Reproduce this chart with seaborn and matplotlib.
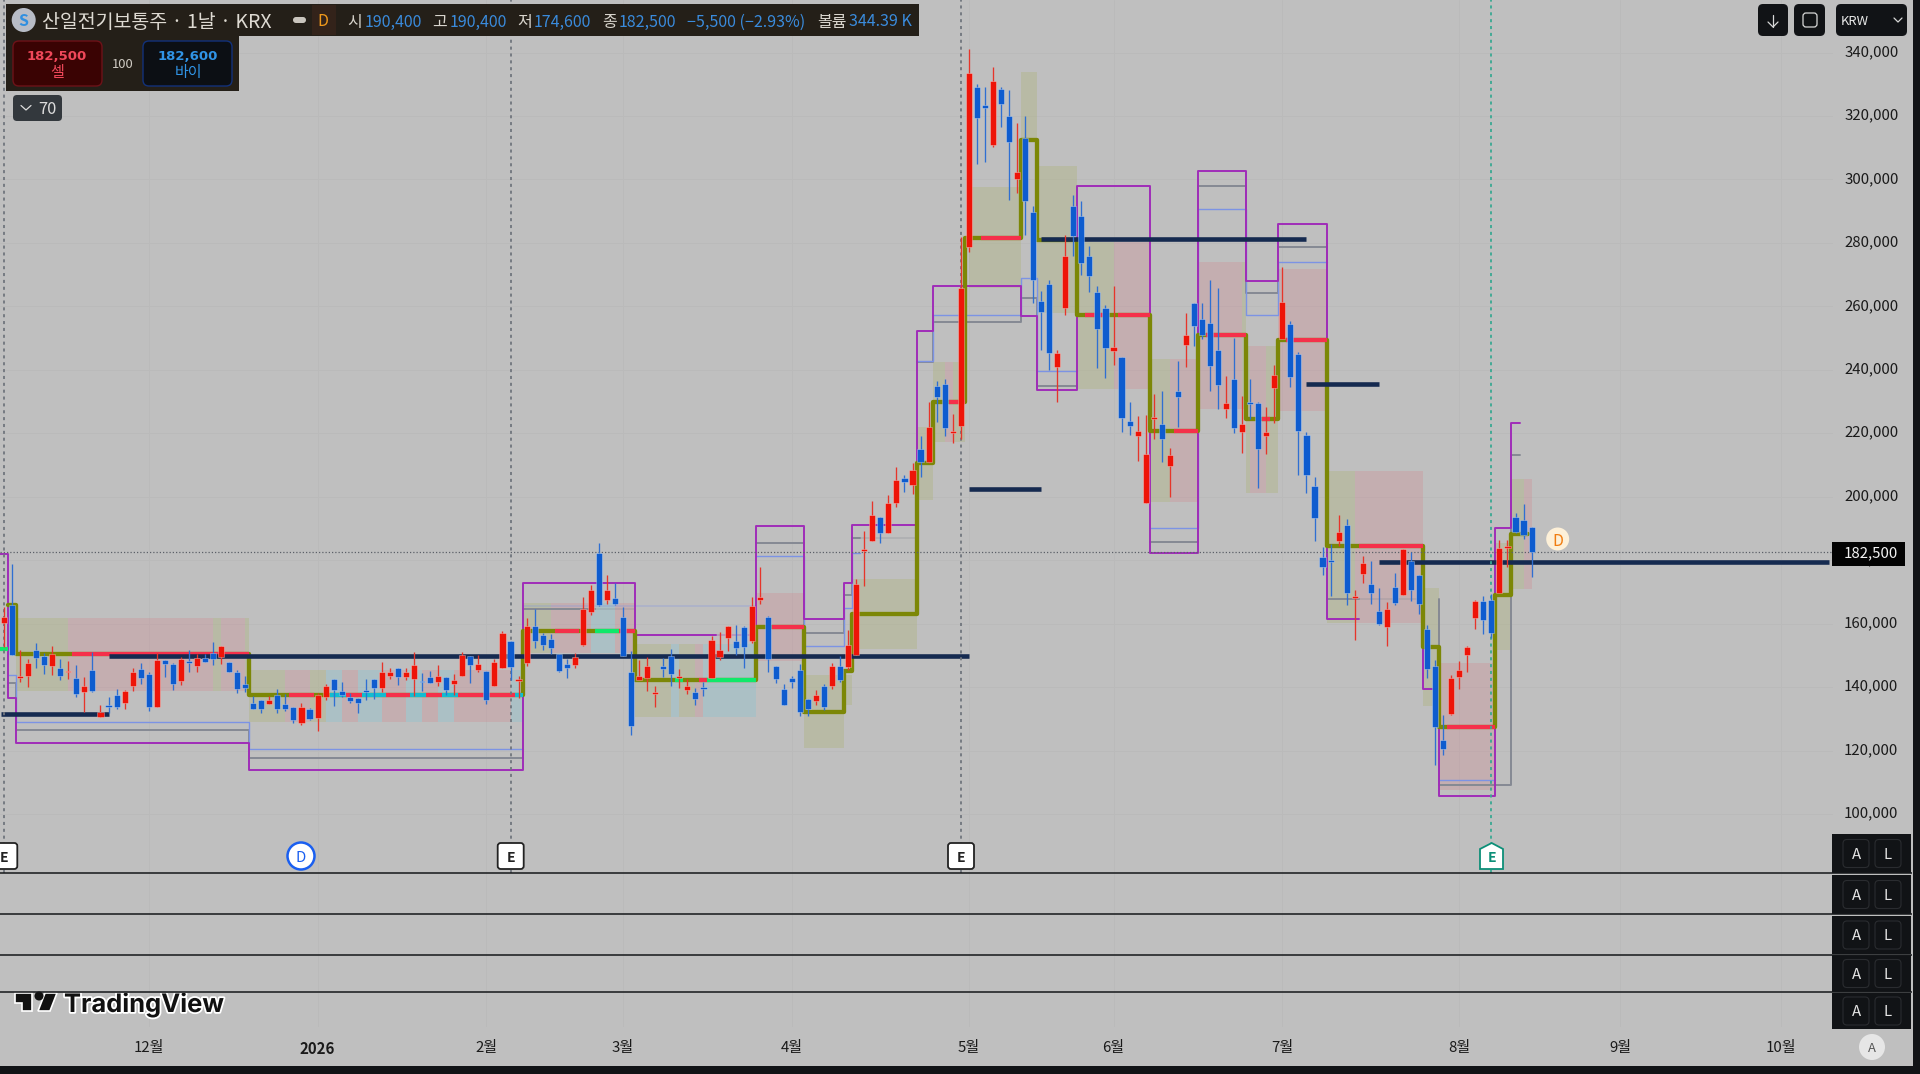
import numpy as np
import pandas as pd
import seaborn as sns
import matplotlib.pyplot as plt
import matplotlib.patheffects as pe
from matplotlib.patches import Rectangle, FancyBboxPatch, Circle, Polygon
from matplotlib.transforms import Bbox, ScaledTranslation

# OHLC diario, em milhares de KRW
opens = [160.1,165.9,142.9,143.5,151.7,149.8,146.8,145.9,144.6,142.9,
         138.6,145.3,130.7,134.3,137.5,135.0,140.3,145.7,144.1,133.8,
         148.5,147.2,142.0,148.2,146.8,149.1,150.6,149.5,147.8,144.6,
         141.0,134.9,135.8,134.8,137.4,134.7,133.7,128.8,133.1,130.1,
         137.0,142.7,138.7,136.9,136.6,138.8,142.6,139.8,143.5,146.0,
         143.1,142.7,141.8,143.1,141.7,143.1,141.0,143.6,149.7,145.4,
         145.2,140.3,146.0,154.5,141.9,
         147.7,159.3,156.3,155.2,150.4,147.2,147.0,153.3,163.8,182.4,
         167.6,168.0,162.1,144.7,142.1,143.0,137.7,146.6,149.9,142.9,
         139.0,138.3,139.7,143.0,149.4,155.5,154.4,159.0,154.6,167.6,
         162.1,146.6,139.5,142.9,145.3,136.4,135.5,140.2,140.5,146.6,
         146.4,150.2,182.8,186.2,193.5,188.6,
         197.9,206.0,203.7,215.0,210.8,234.9,235.6,220.2,222.3,
         278.8,329.0,323.5,310.8,328.5,320.0,300.0,313.0,289.9,261.8,
         267.0,241.0,259.4,291.7,288.5,275.9,264.4,259.5,245.9,244.1,
         223.9,219.3,197.9,224.6,222.8,209.8,233.3,247.7,261.1,255.9,
         254.8,246.4,227.7,237.0,220.4,230.0,229.4,219.3,234.4,249.8,
         254.5,244.9,219.4,203.3,
         181.0,179.7,185.9,191.1,168.1,175.6,172.6,164.0,159.0,171.4,
         169.0,179.7,175.2,158.4,146.8,123.2,131.5,143.3,150.0,161.9,
         167.1,167.5,169.5,183.8,193.5,192.7,190.4]
closes = [162.2,150.1,143.5,147.5,149.3,147.1,150.5,143.6,145.1,137.9,
          140.2,138.9,132.3,133.8,133.6,138.9,144.6,143.0,133.7,148.5,
          147.4,141.0,148.8,147.7,149.1,148.0,148.9,152.9,144.6,139.4,
          139.8,133.2,133.2,135.8,133.1,133.1,129.7,133.6,129.8,137.5,
          140.2,139.2,137.5,135.7,134.9,138.5,139.6,144.6,144.6,143.3,
          144.6,146.9,141.5,141.3,143.5,139.0,142.2,150.0,146.9,147.3,
          135.8,148.0,157.0,146.4,142.2,
          159.3,154.6,153.4,152.4,145.1,145.9,149.5,164.5,170.6,165.9,
          170.6,166.3,149.8,127.8,143.4,146.6,138.4,145.8,144.1,143.2,
          140.4,136.4,139.4,154.9,151.7,159.1,152.4,152.5,165.7,168.4,
          149.0,142.6,134.5,141.7,132.3,133.1,137.4,133.6,146.8,142.1,
          153.3,172.6,183.4,194.2,188.7,197.9,
          205.3,204.8,208.4,211.0,222.1,231.4,221.8,220.8,265.7,
          333.5,319.5,322.4,331.1,323.9,311.9,302.4,293.3,268.4,258.2,
          245.4,245.4,275.9,282.2,273.8,269.7,252.8,246.8,247.3,224.7,
          222.2,220.8,213.5,225.1,218.3,213.0,231.3,250.9,253.9,250.9,
          241.3,235.3,229.4,221.8,222.9,229.2,214.9,220.3,238.4,261.3,
          237.8,220.8,206.8,193.2,
          178.0,179.5,188.9,169.6,168.3,179.0,169.8,159.8,164.5,166.4,
          183.5,170.6,166.2,145.6,127.5,120.5,142.9,145.4,152.7,167.2,
          161.2,157.2,183.8,184.5,188.9,187.9,182.5]
highs = [165.4,178.8,151.7,148.8,153.8,150.9,153.0,148.8,148.2,147.0,
         143.1,151.2,134.4,136.8,139.3,139.1,145.9,147.7,144.6,150.6,
         148.5,147.5,149.6,151.7,150.3,150.3,154.2,152.9,147.8,145.4,
         143.5,137.2,135.8,137.2,139.5,137.8,133.7,134.9,133.5,138.2,
         141.0,142.7,141.6,138.2,136.6,142.6,142.6,147.9,145.9,146.0,
         145.9,151.0,144.3,145.2,146.9,143.1,144.0,151.2,149.7,150.1,
         145.2,148.8,157.8,154.5,143.5,
         161.7,164.5,157.0,156.8,150.4,148.8,150.7,168.3,172.2,185.3,
         175.4,172.9,165.4,151.4,148.5,149.6,140.5,149.1,152.0,145.6,
         142.6,139.6,141.7,156.1,157.5,159.3,159.6,159.3,168.3,178.0,
         162.4,146.6,140.9,143.5,147.3,136.4,139.1,140.9,147.7,149.8,
         158.0,174.1,189.3,198.5,193.5,200.5,
         209.5,206.9,210.5,219.0,230.0,236.6,237.0,226.1,282.0,
         341.0,330.0,329.1,335.3,329.1,328.2,317.7,320.0,291.5,265.0,
         268.3,246.1,282.5,295.1,293.2,279.1,266.4,260.5,266.4,244.1,
         230.0,225.5,225.8,232.3,233.4,215.3,242.9,258.0,261.1,261.0,
         268.3,265.9,237.9,249.9,231.6,237.0,230.0,228.4,241.5,272.5,
         255.4,245.5,220.3,206.3,
         184.3,185.1,194.2,192.9,170.6,181.3,179.9,171.3,166.9,175.9,
         183.5,182.6,175.2,159.5,148.6,131.2,143.8,148.2,153.0,167.5,
         168.7,169.2,186.4,186.4,194.8,197.7,190.4]
lows = [152.7,150.1,141.7,140.1,145.9,144.0,143.8,142.2,142.6,137.0,
        132.3,138.6,130.5,131.7,133.0,133.0,138.9,141.0,132.6,133.8,
        143.1,139.1,140.7,144.8,144.8,148.0,147.0,147.4,144.6,138.0,
        138.5,133.1,131.7,134.8,131.9,132.6,128.8,128.0,129.6,126.3,
        135.9,134.0,137.0,135.1,131.7,135.9,136.3,138.6,142.5,140.7,
        142.2,137.2,138.8,141.2,140.2,137.5,137.5,143.5,141.2,144.6,
        134.7,140.2,145.9,142.2,136.5,
        146.5,152.2,151.7,150.4,144.9,143.0,145.9,153.0,162.7,165.6,
        166.2,165.9,149.8,124.9,142.1,138.9,133.6,143.3,140.4,139.6,
        137.7,134.2,137.2,143.0,148.6,151.5,150.1,146.1,154.0,166.2,
        144.9,141.2,134.5,139.6,130.9,130.9,134.5,132.8,139.4,141.7,
        145.4,150.0,171.9,186.2,185.5,188.5,
        196.8,201.5,201.0,206.3,210.5,223.4,219.0,216.9,218.1,
        277.0,304.9,305.6,310.2,316.5,293.6,295.7,282.5,261.2,246.1,
        240.0,230.0,257.3,275.9,269.9,264.4,240.5,237.3,241.5,220.5,
        219.5,211.4,197.9,218.1,211.1,200.0,222.1,241.0,247.5,249.6,
        233.4,227.6,224.9,220.0,213.9,224.6,202.9,213.5,223.1,249.8,
        234.5,206.9,201.1,185.9,
        175.4,168.8,184.6,165.9,154.9,172.9,166.2,159.6,152.8,165.8,
        169.0,167.1,162.9,142.8,115.5,118.6,131.2,139.3,144.9,158.4,
        156.8,155.4,169.5,178.0,188.7,186.6,174.6]

# Eixos
price_ticks = [100, 120, 140, 160, 180, 200, 220, 240, 260, 280, 300, 320, 340]
price_labels = ['100,000', '120,000', '140,000', '160,000', '180,000', '200,000', '220,000',
                '240,000', '260,000', '280,000', '300,000', '320,000', '340,000']
month_ticks = [18, 39, 60, 77, 98, 120, 138, 159, 181, 201, 221]
month_labels = ['12월', '2026', '2월', '3월', '4월', '5월', '6월', '7월', '8월', '9월', '10월']
last_close = 182.5

# Linha principal em degraus (oliva)
poc_edges = [0.5, 1.5, 30.5, 64.5, 78.5, 93.5, 99.5, 104.5, 105.5, 113.5, 115.5, 119.5, 126.5,
             128.5, 133.5, 142.5, 148.5, 154.5, 158.5, 164.5, 176.5, 178.5, 185.5, 187.5, 189.5]
poc_levels = [165.9, 150.4, 137.5, 157.7, 142.2, 158.9, 132.2, 145.1, 163.0, 210.6, 229.9, 281.6,
              312.4, 280.9, 257.3, 220.7, 251.0, 224.5, 249.4, 184.5, 152.6, 127.4, 169.0, 188.3]

# Trechos coloridos sobre a linha principal
seg_start = [-0.5, 8.5, 35.5, 40.5, 42.5, 44.5, 47.5, 50.5, 52.5, 54.5, 56.5, 63.5, 68.5, 73.5, 76.5,
             83.5, 86.5, 87.5, 95.5, 117.5, 121.5, 134.5, 138.5, 145.5, 149.5, 156.5, 159.5, 168.5, 179.5]
seg_end = [0.5, 30.5, 38.5, 42.5, 44.5, 47.5, 50.5, 52.5, 54.5, 56.5, 63.5, 64.5, 71.5, 76.5, 78.5,
           84.5, 87.5, 93.5, 99.5, 119.5, 126.5, 137.5, 142.5, 148.5, 154.5, 157.5, 164.5, 176.5, 185.5]
seg_price = [151.9, 150.4, 137.5, 137.5, 137.5, 137.5, 137.5, 137.5, 137.5, 137.5, 137.5, 137.5,
             157.7, 157.7, 157.7, 142.2, 142.2, 142.2, 158.9, 229.9, 281.6, 257.3, 257.3, 220.7,
             251.0, 224.5, 249.4, 184.5, 127.4]
seg_kind = ['green', 'red', 'red', 'cyan', 'red', 'cyan', 'red', 'cyan', 'red', 'cyan', 'red', 'cyan',
            'red', 'green', 'red', 'green', 'red', 'green', 'red', 'red', 'red', 'red', 'red', 'red',
            'red', 'red', 'red', 'red', 'red']

# Caixas sombreadas
box_start = [1.5, 8, 26, 27, 30, 30.5, 35, 38, 40, 42, 44, 47, 50, 52, 54, 56, 63.1,
             64.5, 68, 73, 76, 78.5, 83, 84, 86, 87, 93.5, 99.5, 104.5, 105.5, 113.5, 115.5, 117, 118,
             120, 126.5, 128.5, 133.5, 138, 142.5, 145, 148.5, 154, 154.5, 155, 157, 158.5,
             164.5, 168, 176.5, 178.5, 185.5, 187.5, 189]
box_end = [8, 26, 27, 30, 30.5, 35, 38, 40, 42, 44, 47, 50, 52, 54, 56, 63.1, 64.5,
           68, 73, 76, 78.5, 83, 84, 86, 87, 93.5, 99.5, 104.5, 105.5, 113.5, 115.5, 117, 118, 119.5,
           126.5, 128.5, 133.5, 138, 142.5, 145, 148.5, 154, 154.5, 155, 157, 158.5, 164.5,
           168, 176.5, 178.5, 185.5, 187.5, 189, 190]
box_top = [161.9, 161.9, 161.9, 161.9, 161.9, 145.4, 145.4, 145.4, 145.4, 145.4, 145.4, 145.4, 145.4,
           145.4, 145.4, 145.4, 145.4,
           166.6, 166.6, 166.6, 166.6, 153.6, 153.6, 153.6, 153.6, 153.6, 169.6, 143.8, 143.8, 174.1,
           222.1, 242.5, 242.5, 242.5,
           297.7, 333.9, 304.2, 280.4, 280.4, 243.3, 243.3, 274.1, 274.1, 247.5, 247.5, 247.5, 271.7,
           208.1, 208.1, 171.2, 147.5, 185.4, 205.6, 205.6]
box_bottom = [138.7, 138.7, 138.7, 138.7, 138.7, 129.1, 129.1, 129.1, 129.1, 129.1, 129.1, 129.1, 129.1,
              129.1, 129.1, 129.1, 129.1,
              150.7, 150.7, 150.7, 150.7, 130.7, 130.7, 130.7, 130.7, 130.7, 148.3, 120.7, 134.4, 152.0,
              199.0, 217.3, 217.3, 217.3,
              265.7, 312.4, 257.8, 233.9, 233.9, 198.4, 198.4, 227.6, 227.6, 201.1, 201.1, 201.1, 227.1,
              160.3, 160.3, 134.0, 107.6, 151.7, 170.9, 170.9]
box_kind = ['olive', 'pink', 'olive', 'pink', 'olive', 'olive', 'pink', 'olive', 'cyan', 'pink', 'cyan',
            'pink', 'cyan', 'pink', 'cyan', 'pink', 'cyan',
            'olive', 'pink', 'cyan', 'pink', 'olive', 'cyan', 'olive', 'pink', 'cyan', 'pink', 'olive',
            'olive', 'olive', 'olive', 'olive', 'pink', 'olive',
            'olive', 'olive', 'olive', 'olive', 'pink', 'olive', 'pink', 'pink', 'olive', 'olive', 'pink',
            'olive', 'pink', 'olive', 'pink', 'olive', 'pink', 'olive', 'olive', 'pink']

# Contornos roxos, cinza e azuis: (bordas, niveis)
purple_runs = [
    ([-0.5, 0.5, 1.5, 30.5, 64.5, 78.5, 88.5], [182.0, 136.6, 122.4, 113.9, 172.8, 156.4]),
    ([93.4, 93.5, 99.5, 104.5, 105.5, 113.5, 115.5, 126.5, 128.5, 133.5, 142.5, 148.5, 154.5, 158.5, 164.5, 168.5],
     [156.4, 190.8, 161.6, 172.9, 191.1, 252.2, 266.4, 257.0, 233.6, 298.0, 182.4, 302.8, 268.0, 286.1, 161.5]),
    ([176.4, 176.5, 178.5, 185.5, 187.5, 188.5], [161.5, 139.4, 105.7, 190.1, 223.2]),
]
gray_runs = [
    ([0.5, 1.5, 30.5, 64.5, 73.5], [141.3, 126.5, 117.7, 164.6]),
    ([93.5, 99.5, 104.5, 105.5, 106.5], [185.5, 157.0, 169.0, 187.0]),
    ([113.5, 115.5, 126.5, 128.5, 133.5], [242.5, 255.1, 262.7, 234.9]),
    ([142.5, 148.5, 154.5, 158.5, 164.5, 168.5], [185.8, 297.9, 264.3, 278.7, 167.9]),
    ([178.49, 178.5, 187.5, 188.5], [167.9, 109.1, 213.2]),
]
blue_runs = [
    ([0.5, 1.5, 30.5, 64.5], [143.8, 129.0, 120.5]),
    ([93.5, 99.5, 104.5, 105.5, 106.5], [181.3, 153.0, 165.0, 182.3]),
    ([113.5, 115.5, 126.5, 128.5, 133.5], [242.9, 257.3, 269.0, 239.7]),
    ([142.5, 148.5, 154.5, 158.5, 164.5], [190.1, 290.8, 257.4, 274.1]),
    ([178.5, 185.5], [110.7]),
]
pale_start = [73.5, 64.5, 88.5, 106.5, 168.5]
pale_end = [78.5, 93.5, 93.5, 113.5, 176.5]
pale_price = [164.6, 165.6, 156.4, 187.0, 167.9]
pale_kind = ['gray', 'blue', 'purple', 'gray', 'gray']

# Linhas horizontais escuras
navy_start = [-0.4, 13, 120, 129, 162, 171]
navy_end = [13, 120, 129, 162, 171, 227]
navy_price = [131.6, 149.9, 202.5, 281.3, 235.4, 179.3]

# Linhas verticais tracejadas dos eventos
event_x = [0, 63, 119, 185]
event_color = ['#70757d', '#70757d', '#70757d', '#3aa892']

palette = {'olive': (167/255, 175/255, 91/255, 0.25), 'pink': (215/255, 115/255, 127/255, 0.22),
           'cyan': (115/255, 195/255, 215/255, 0.25), 'red': '#f5304a', 'green': '#0fe86a',
           'seg_cyan': '#12bcd0', 'gray': '#858993', 'blue': '#7c93e4', 'purple': '#a02cb8'}
seg_colors = {'red': palette['red'], 'green': palette['green'], 'cyan': palette['seg_cyan']}


def steps(edges, levels):
    # transforma bordas e niveis em pontos de um degrau
    xs, ys = [], []
    for i, level in enumerate(levels):
        xs += [edges[i], edges[i + 1]]
        ys += [level, level]
    return xs, ys


BG = '#bfbfbf'
DARK = '#111316'
KR_FONT = ['Noto Sans CJK KR', 'DejaVu Sans']

sns.set_theme(style='white', rc={'figure.facecolor': BG, 'axes.facecolor': BG, 'patch.edgecolor': 'none'})
plt.rcParams['font.family'] = KR_FONT

fig = plt.figure(figsize=(19.2, 10.74), dpi=100)
ax = fig.add_axes([0, 47 / 1074, 1833 / 1920, 1027 / 1074])
ax.set_xlim(-0.4975, 227.49)
ax.set_ylim(32.86, 356.57)
sns.despine(ax=ax, left=True, bottom=True, right=True, top=True)

ax.set_yticks(price_ticks, price_labels)
ax.set_xticks(month_ticks, month_labels)
ax.yaxis.tick_right()
ax.tick_params(axis='y', length=0, pad=8, labelsize=10.8, labelcolor='#1a1a1a')
ax.tick_params(axis='x', length=0, pad=10, labelsize=10.8, labelcolor='#1a1a1a')
# a fonte CJK fica um pouco baixa: sobe os rotulos 2 px
up_shift = ScaledTranslation(0, 0.02, fig.dpi_scale_trans)
for tick in ax.yaxis.get_major_ticks():
    tick.label2.set_transform(tick.label2.get_transform() + up_shift)
ax.get_xticklabels()[1].set_fontweight('bold')
ax.grid(True, color='#bababa', linewidth=0.7, zorder=0)
ax.set_axisbelow(True)

# Caixas sombreadas
for start, end, top, bottom, kind in zip(box_start, box_end, box_top, box_bottom, box_kind):
    ax.add_patch(Rectangle((start, bottom), end - start, top - bottom, facecolor=palette[kind],
                           edgecolor='none', zorder=1))

# Contornos
for edges, levels in gray_runs:
    xs, ys = steps(edges, levels)
    ax.plot(xs, ys, color=palette['gray'], lw=1.4, zorder=2)
for edges, levels in blue_runs:
    xs, ys = steps(edges, levels)
    ax.plot(xs, ys, color=palette['blue'], lw=1.0, zorder=2.1)
for start, end, price, kind in zip(pale_start, pale_end, pale_price, pale_kind):
    ax.plot([start, end], [price, price], color=palette[kind], lw=1.2, alpha=0.3, zorder=2)
for edges, levels in purple_runs:
    xs, ys = steps(edges, levels)
    ax.plot(xs, ys, color=palette['purple'], lw=1.4, zorder=2.2)

# Linha principal
poc_x, poc_y = steps(poc_edges, poc_levels)
poc = pd.DataFrame({'x': poc_x, 'y': poc_y})
sns.lineplot(data=poc, x='x', y='y', sort=False, estimator=None, color='#7c8706', linewidth=3.1,
             solid_joinstyle='round', legend=False, ax=ax, zorder=3)
ax.set_xlabel(None)
ax.set_ylabel(None)
for start, end, price, kind in zip(seg_start, seg_end, seg_price, seg_kind):
    ax.plot([start, end], [price, price], color=seg_colors[kind], lw=3.0, solid_capstyle='butt', zorder=3.1)

# Linhas escuras e linha do ultimo preco
ax.hlines(navy_price, navy_start, navy_end, color='#152a50', lw=3.3, zorder=3.2)
ax.axhline(last_close, color='#5c6068', lw=0.9, ls=(0, (1, 1.6)), zorder=3.3)
for x, color in zip(event_x, event_color):
    ax.vlines(x, 81.4, 356.6, color=color, lw=1.3, ls=(0, (1.7, 2.1)), zorder=3.3)

# Candles
o = np.array(opens)
c = np.array(closes)
h = np.array(highs)
l = np.array(lows)
idx = np.arange(len(o))
up = c >= o
RED = '#ee1408'
BLUE = '#0e5ccf'
ax.vlines(idx[up], l[up], h[up], color='#e6352a', lw=0.95, zorder=4)
ax.vlines(idx[~up], l[~up], h[~up], color='#2f6fd2', lw=0.95, zorder=4)
ax.bar(idx[up], np.maximum(c[up] - o[up], 0.5), bottom=o[up], width=0.76, color=RED,
       edgecolor=(1, 1, 1, 0.3), linewidth=0.7, zorder=4.1)
ax.bar(idx[~up], np.maximum(o[~up] - c[~up], 0.5), bottom=c[~up], width=0.76, color=BLUE,
       edgecolor=(1, 1, 1, 0.3), linewidth=0.7, zorder=4.1)

# Camada da interface, em pixels
ui = fig.add_axes([0, 0, 1, 1], zorder=5)
ui.set_xlim(0, 1920)
ui.set_ylim(1074, 0)
ui.axis('off')


def box(x0, y0, x1, y1, face, edge='none', lw=0, rad=0):
    ui.add_patch(FancyBboxPatch((x0 + rad, y0 + rad), x1 - x0 - 2 * rad, y1 - y0 - 2 * rad,
                                boxstyle=f'round,pad={rad},rounding_size={rad}',
                                facecolor=face, edgecolor=edge, linewidth=lw))


def label(x, y, s, size, color, ha='left', weight='normal', family=KR_FONT):
    return ui.text(x, y, s, fontsize=size * 0.72, color=color, ha=ha, va='center_baseline',
                   fontweight=weight, family=family)


# Divisorias dos paineis e moldura
ui.hlines([873, 914, 955, 992], 0, 1912, color='#15171a', lw=1.1)
ui.add_patch(Rectangle((1913, 0), 7, 1074, facecolor=DARK))
ui.add_patch(Rectangle((0, 1066), 1920, 8, facecolor=DARK))

# Cabecalho
HEAD = '#241f18'
ui.add_patch(Rectangle((6, 4), 913, 32, facecolor=HEAD))
ui.add_patch(Rectangle((6, 36), 233, 55, facecolor=HEAD))
ui.add_patch(Circle((23.7, 20), 12, facecolor='#b8bcc6'))
label(23.7, 20, 'S', 16, '#2f8fe0', ha='center', weight='bold')
label(42, 20, '산일전기보통주 · 1날 · KRX', 19.5, '#dedad2')
box(293, 17, 306, 23, '#c9c5bd', rad=3)
ui.add_patch(Rectangle((312, 5), 24, 30, facecolor='#33231a'))
label(323, 20, 'D', 16, '#f09a1c', ha='center')
VAL = '#3a8bdc'
TXT = '#d8d4cc'
for x, s, color in [(347, '시', TXT), (365, '190,400', VAL), (432, '고', TXT), (450, '190,400', VAL),
                    (517, '저', TXT), (534, '174,600', VAL), (602, '종', TXT), (619, '182,500', VAL),
                    (687, '−5,500 (−2.93%)', VAL), (817, '볼륨', TXT), (849, '344.39 K', VAL)]:
    label(x, 20, s, 16, color)

# Caixas de venda e compra
box(13, 41, 102, 86, '#3a0303', edge='#6d1218', lw=1, rad=6)
label(57, 55, '182,500', 13.3, '#f0485a', ha='center', weight='bold', family=['DejaVu Sans'])
label(57, 72, '셀', 15, '#f0485a', ha='center')
label(123, 63, '100', 13, '#d0ccc4', ha='center')
box(143, 41, 232, 86, '#0c0f14', edge='#12317a', lw=1, rad=6)
label(188, 55, '182,600', 13.3, '#3094e6', ha='center', weight='bold', family=['DejaVu Sans'])
label(188, 72, '바이', 15, '#3094e6', ha='center')
box(13, 95, 62, 121, '#33383d', rad=4)
ui.plot([21, 26, 31], [105.5, 110, 105.5], color='#dddddd', lw=0.9)
label(38, 108, '70', 16.5, '#dcdcdc')

# Botoes do canto direito
box(1758, 4, 1788, 36, DARK, rad=5)
ui.plot([1773, 1773], [15, 27], color='#d8d8d8', lw=0.9)
ui.plot([1768, 1773, 1778], [22, 27, 22], color='#d8d8d8', lw=0.9)
box(1794, 4, 1825, 36, DARK, rad=5)
box(1803, 13, 1817, 27, 'none', edge='#d8d8d8', lw=0.9, rad=3)
box(1836, 4, 1907, 36, DARK, rad=5)
label(1841, 20, 'KRW', 13, '#e8e8e8')
ui.plot([1894, 1898, 1902], [18, 22, 18], color='#d8d8d8', lw=0.9)

# Etiqueta do ultimo preco
ui.add_patch(Rectangle((1832, 542), 73, 24, facecolor='#030303'))
label(1871, 552, '182,500', 15, '#f2f2f2', ha='center')

# Botoes A / L
for y0, y1 in [(834, 873), (875, 914), (916, 954), (955, 992), (993, 1029)]:
    ui.add_patch(Rectangle((1832, y0), 79, y1 - y0, facecolor=DARK))
    mid = (y0 + y1) / 2
    box(1843, mid - 14, 1869, mid + 14, 'none', edge='#2a2c30', lw=0.8, rad=4)
    box(1875, mid - 14, 1901, mid + 14, 'none', edge='#2a2c30', lw=0.8, rad=4)
    label(1856, mid, 'A', 15, '#e4e4e4', ha='center')
    label(1888, mid, 'L', 15, '#e4e4e4', ha='center')
ui.add_patch(Circle((1872, 1047), 13, facecolor='#e6e6e6'))
label(1872, 1047, 'A', 13, '#555555', ha='center')

# Marcadores de eventos
for x in [4.3, 510.7, 961]:
    box(x - 13, 843, x + 13, 869, 'white', edge='#222222', lw=1.3, rad=3)
    label(x, 856, 'E', 14, '#222222', ha='center', weight='bold')
ui.add_patch(Polygon([(1491.7, 843), (1503, 849), (1503, 869), (1480, 869), (1480, 849)],
                     facecolor='white', edgecolor='#0d8f78', linewidth=1.3))
label(1491.7, 857, 'E', 14, '#0d8f78', ha='center', weight='bold')
ui.add_patch(Circle((301, 856), 13.5, facecolor='white', edgecolor='#1a5ff0', linewidth=1.8))
label(301, 856, 'D', 15, '#1a5ff0', ha='center')
ui.add_patch(Circle((1557.7, 539), 11.5, facecolor='#fdf0d8'))
label(1557.7, 539, 'D', 16, '#f07c10', ha='center')

# Logotipo, cortado pela divisoria do painel
clip = Bbox([[0, 1074 - 1040], [400, 1074 - 993]])
halo = [pe.withStroke(linewidth=2.6, foreground='white')]
logo = label(64, 1002, 'TradingView', 25.5, '#111111', weight='bold', family=['Inter', 'DejaVu Sans'])
logo.set_path_effects(halo)
logo.set_clip_box(clip)
logo.set_clip_on(True)
for points in [[(15, 993), (32, 993), (32, 1011), (22, 1011), (22, 1003), (15, 1003)],
               [(45, 993), (57, 993), (50, 1011), (38, 1011)]]:
    ui.add_patch(Polygon(points, facecolor='#111111', edgecolor='white', linewidth=1.2))
ui.add_patch(Circle((39, 996), 4.5, facecolor='#111111', clip_box=clip))

fig.savefig('out.png', dpi=100, facecolor=BG)
plt.close(fig)
